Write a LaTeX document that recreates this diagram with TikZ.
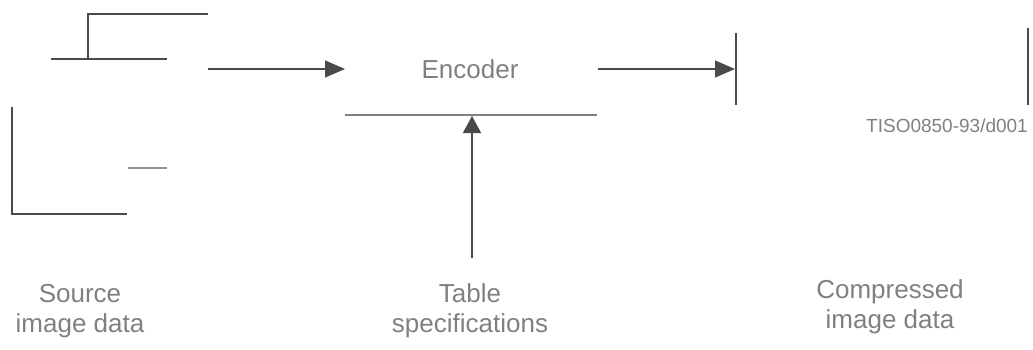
\documentclass[tikz,border=0pt]{standalone}
\usepackage{fontspec}
\setmainfont{Liberation Sans}
\usetikzlibrary{arrows.meta}
\definecolor{linegray}{HTML}{4A4A4A}
\definecolor{textgray}{HTML}{808080}
\tikzset{
  ln/.style={draw=linegray, line width=1.2pt},
  arr/.style={ln, -{Triangle[length=20pt, width=17pt]}},
  lbl/.style={inner sep=0pt, anchor=base, text=textgray, font=\fontsize{26}{30}\selectfont},
  code/.style={inner sep=0pt, anchor=base east, text=textgray, font=\fontsize{19}{22}\selectfont}
}
\begin{document}
\begin{tikzpicture}[x=1pt, y=-1pt]
\useasboundingbox (0,0) rectangle (1033,349);
% source image sketch
\coordinate (s1) at (208,14);
\coordinate (s2) at (88,14);
\coordinate (s3) at (88,59);
\coordinate (s4) at (51,59);
\coordinate (s5) at (167,59);
\draw[ln] (s1) -- (s2) -- (s3);
\draw[ln] (s4) -- (s5);
\coordinate (l1) at (12,107);
\coordinate (l2) at (12,214);
\coordinate (l3) at (127,214);
\draw[ln] (l1) -- (l2) -- (l3);
\coordinate (m1) at (128,168);
\coordinate (m2) at (167,168);
\draw[ln, draw=linegray!60] (m1) -- (m2);
% encoder
\node[lbl, font=\fontsize{26}{30}\selectfont] (enc) at (470,78) {Encoder};
\coordinate (e1) at (345,115);
\coordinate (e2) at (597,115);
\draw[ln, draw=linegray!70] (e1) -- (e2);
% arrows
\coordinate (a1s) at (208,69);
\coordinate (a1e) at (345,69);
\draw[arr] (a1s) -- (a1e);
\coordinate (a2s) at (598,69);
\coordinate (a2e) at (735,69);
\draw[arr] (a2s) -- (a2e);
\coordinate (a3s) at (472,258);
\coordinate (a3e) at (472,116);
\draw[ln, -{Triangle[length=17pt, width=18pt]}] (a3s) -- (a3e);
% compressed data
\coordinate (c1) at (736,33);
\coordinate (c2) at (736,105);
\draw[ln] (c1) -- (c2);
\coordinate (c3) at (1028,28);
\coordinate (c4) at (1028,105);
\draw[ln] (c3) -- (c4);
\node[code] (tiso) at (1028,132) {TISO0850-93/d001};
% labels
\node[lbl] (src1) at (80,302) {Source};
\node[lbl] (src2) at (80,332) {image data};
\node[lbl] (tab1) at (470,302) {Table};
\node[lbl] (tab2) at (470,332) {specifications};
\node[lbl] (cmp1) at (890,298) {Compressed};
\node[lbl] (cmp2) at (890,328) {image data};
\end{tikzpicture}
\end{document}
